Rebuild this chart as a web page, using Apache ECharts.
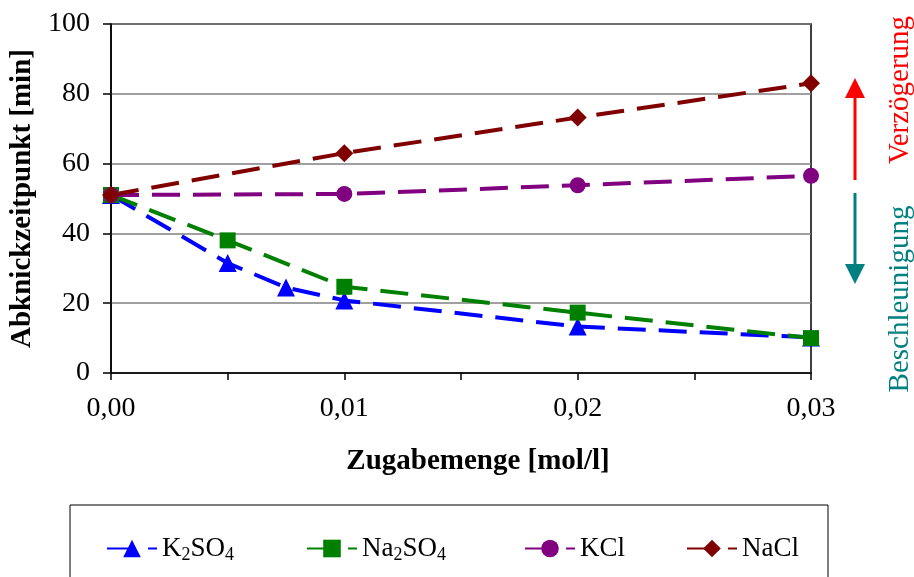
<!DOCTYPE html>
<html>
<head>
<meta charset="utf-8">
<script src="https://cdn.jsdelivr.net/npm/echarts@6/dist/echarts.min.js"></script>
<style>
  html, body { margin: 0; padding: 0; background: #fff; }
  #chart { width: 914px; height: 577px; }
</style>
</head>
<body>
<div id="chart"></div>
<script>
// Messwerte (x = Zugabemenge mol/l, y = Abknickzeitpunkt min)
var k2so4X = [0, 0.005, 0.0075, 0.01, 0.02, 0.03];
var k2so4Y = [51, 31.5, 24.5, 20.8, 13.3, 10.2];
var na2so4X = [0, 0.005, 0.01, 0.02, 0.03];
var na2so4Y = [51, 38, 24.7, 17.3, 10];
var kclX = [0, 0.01, 0.02, 0.03];
var kclY = [51, 51.3, 53.8, 56.5];
var naclX = [0, 0.01, 0.02, 0.03];
var naclY = [51, 63, 73.2, 83];
var yTicks = [0, 20, 40, 60, 80, 100];

var font = 'Liberation Serif';
var chart = echarts.init(document.getElementById('chart'));

function pairs(xs, ys) {
    var out = [];
    for (var i = 0; i < xs.length; i++) out.push([xs[i], ys[i]]);
    return out;
}

function lineSeries(name, color, symbol, size, xs, ys) {
    return {
        name: name, type: 'line', data: pairs(xs, ys),
        symbol: symbol, symbolSize: size,
        lineStyle: { color: color, width: 4, type: [28, 13] },
        itemStyle: { color: color },
        animation: false, z: 3
    };
}

var rich = {
    n: { fontFamily: font, fontSize: 27, color: '#000' },
    s: { fontFamily: font, fontSize: 18, color: '#000', padding: [14, 0, 0, 0] }
};
function legendAt(left, name, label) {
    return {
        left: left, top: 530, data: [name],
        itemWidth: 50, itemHeight: 22, itemGap: 0,
        selectedMode: false,
        formatter: function () { return label; },
        textStyle: { rich: rich }
    };
}

var option = {
    backgroundColor: '#fff',
    grid: { left: 111, right: 103, top: 24, bottom: 204, show: true, borderColor: '#000', borderWidth: 1.5 },
    legend: [
        legendAt(101, 'K2SO4', '{n|K}{s|2}{n|SO}{s|4}'),
        legendAt(301, 'Na2SO4', '{n|Na}{s|2}{n|SO}{s|4}'),
        legendAt(519, 'KCl', '{n|KCl}'),
        legendAt(681, 'NaCl', '{n|NaCl}')
    ],
    xAxis: {
        type: 'value', min: 0, max: 0.03, interval: 0.005,
        name: 'Zugabemenge [mol/l]', nameLocation: 'middle', nameGap: 74,
        nameTextStyle: { fontFamily: font, fontSize: 29, fontWeight: 'bold', color: '#000', padding: [0, 0, 0, 34] },
        axisLine: { lineStyle: { color: '#000', width: 1.5 } },
        axisTick: { show: true, inside: false, length: 7, lineStyle: { color: '#000', width: 1.5 } },
        axisLabel: {
            fontFamily: font, fontSize: 28, color: '#000', margin: 22,
            formatter: function (v) {
                return Math.round(v * 1000) % 10 === 0 ? v.toFixed(2).replace('.', ',') : '';
            }
        },
        splitLine: { show: false }
    },
    yAxis: {
        type: 'value', min: yTicks[0], max: yTicks[yTicks.length - 1], interval: 20,
        name: 'Abknickzeitpunkt [min]', nameLocation: 'middle', nameGap: 73,
        nameTextStyle: { fontFamily: font, fontSize: 29, fontWeight: 'bold', color: '#000' },
        axisLine: { show: true, lineStyle: { color: '#000', width: 1.5 } },
        axisTick: { show: true, inside: false, length: 8, lineStyle: { color: '#000', width: 1.5 } },
        axisLabel: { fontFamily: font, fontSize: 28, color: '#000', margin: 21 },
        splitLine: { show: true, lineStyle: { color: '#808080', width: 1.5 } }
    },
    series: [
        lineSeries('K2SO4', '#0000ff', 'triangle', 18, k2so4X, k2so4Y),
        lineSeries('Na2SO4', '#008000', 'rect', 16, na2so4X, na2so4Y),
        lineSeries('KCl', '#800080', 'circle', 16, kclX, kclY),
        lineSeries('NaCl', '#800000', 'diamond', 18, naclX, naclY)
    ],
    graphic: [
        // Rahmen der Legende
        { type: 'rect', shape: { x: 70, y: 505, width: 758, height: 90 }, style: { fill: null, stroke: '#000', lineWidth: 1 }, z: 0 },
        // Pfeil Verzögerung
        { type: 'line', shape: { x1: 855, y1: 180, x2: 855, y2: 95 }, style: { stroke: '#ff0000', lineWidth: 3 } },
        { type: 'polygon', shape: { points: [[845, 98], [865, 98], [855, 78]] }, style: { fill: '#ff0000' } },
        { type: 'text', x: 900, y: 90, rotation: Math.PI / 2,
          style: { text: 'Verzögerung', fill: '#ff0000', font: '29px "Liberation Serif"', align: 'center', verticalAlign: 'middle' } },
        // Pfeil Beschleunigung
        { type: 'line', shape: { x1: 855, y1: 193, x2: 855, y2: 266 }, style: { stroke: '#008080', lineWidth: 3 } },
        { type: 'polygon', shape: { points: [[845, 264], [865, 264], [855, 284]] }, style: { fill: '#008080' } },
        { type: 'text', x: 900, y: 299, rotation: Math.PI / 2,
          style: { text: 'Beschleunigung', fill: '#008080', font: '29px "Liberation Serif"', align: 'center', verticalAlign: 'middle' } }
    ]
};
chart.setOption(option);
</script>
</body>
</html>
